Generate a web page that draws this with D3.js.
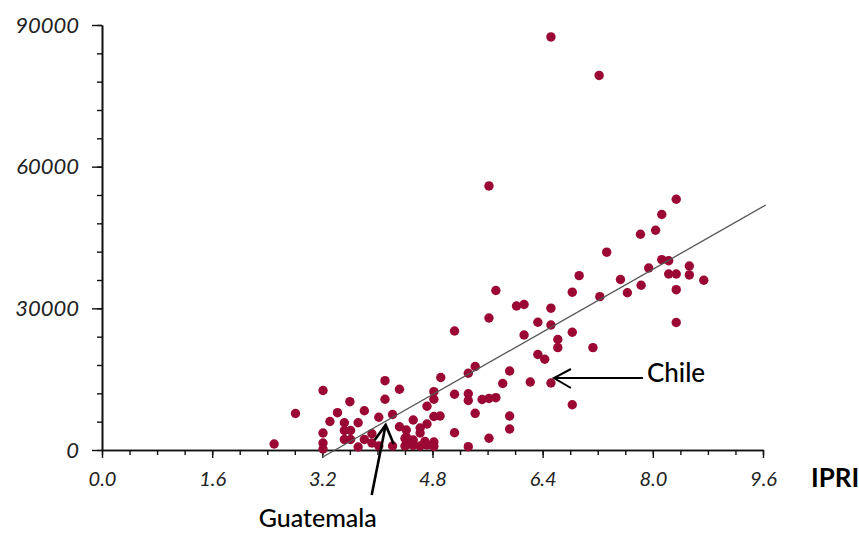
<!DOCTYPE html>
<html>
<head>
<meta charset="utf-8">
<script src="https://cdn.jsdelivr.net/npm/d3@7"></script>
<style>
  html, body { margin: 0; padding: 0; background: #fff; }
  svg { display: block; }
  .tick text { font-family: Lato, "Open Sans", sans-serif; font-style: italic; fill: #222; }
</style>
</head>
<body>
<svg id="chart" width="859" height="534"></svg>
<script>
// ---- data ----
const ipri = [2.50,2.81,3.21,3.21,3.21,3.21,3.60,3.42,3.81,3.31,3.52,3.72,3.52,3.61,3.52,3.61,3.81,3.72,4.11,4.11,4.32,4.02,4.22,3.92,4.02,3.92,4.22,4.32,4.42,4.42,4.42,4.52,4.62,4.62,4.72,4.72,4.82,4.82,4.92,4.82,4.91,4.40,4.52,4.69,4.82,4.40,4.52,4.62,4.72,4.82,5.12,5.12,5.12,5.32,5.42,5.32,5.32,5.52,5.62,5.72,5.42,5.92,5.92,5.92,5.82,5.62,5.32,6.22,6.52,6.83,6.33,6.43,6.62,6.62,7.13,6.13,6.83,5.62,6.33,6.52,6.52,6.02,6.13,5.72,6.83,6.93,7.23,7.63,7.53,7.83,7.94,8.13,8.23,8.23,8.34,8.53,8.53,8.74,8.34,8.34,7.33,7.82,8.04,8.13,8.34,5.62,6.52,7.22];
const gdp = [1270,7730,12600,3600,1480,210,10230,7900,8320,6040,5780,5780,4130,4130,2220,2220,2220,640,14680,10740,12860,6930,7520,3450,850,1480,850,4930,4240,2750,1060,6350,4660,3600,5510,9260,12350,10740,15360,7100,7200,2440,2120,1800,1690,850,950,850,1060,740,11800,3660,25200,16250,17690,11920,10480,10700,10910,11080,7770,7200,4450,16730,14080,2480,700,14400,14190,9590,20230,19210,23400,21670,21670,24360,24930,27960,27050,26480,30030,30500,30820,33780,33420,36920,32470,33300,36110,34880,38550,40310,40070,37280,37280,38970,37070,35940,33950,27000,41890,45690,46530,49880,53100,55920,87470,79320];
const xTicks = [0.0, 1.6, 3.2, 4.8, 6.4, 8.0, 9.6];
const yTicks = [0, 30000, 60000, 90000];
const fitX = [3.20, 9.64];
const fitY = [-1546, 51870];
const labels = [{name: "Chile", ipri: 6.52, gdp: 14190}, {name: "Guatemala", ipri: 4.12, gdp: 5300}];
const xTitle = "IPRI";

// ---- chart ----
const svg = d3.select("#chart");
const x = d3.scaleLinear().domain([0, 9.6]).range([102, 763]);
const y = d3.scaleLinear().domain([0, 90000]).range([450, 25]);

const axisColor = "#111";

const gx = svg.append("g").attr("transform", `translate(0,${y(0)})`);
gx.call(d3.axisBottom(x).tickValues(d3.range(0, 9.61, 0.4)).tickSize(5).tickSizeOuter(0).tickFormat(""));
gx.append("g").call(d3.axisBottom(x).tickValues(xTicks).tickSize(8).tickSizeOuter(0).tickFormat(d3.format(".1f")));
gx.selectAll("path.domain").attr("stroke", axisColor).attr("stroke-width", 1.6);
gx.selectAll(".tick line").attr("stroke", axisColor).attr("stroke-width", 1.4);
gx.selectAll(".tick text").attr("font-size", 20).attr("dy", "1.25em");

const gy = svg.append("g").attr("transform", `translate(${x(0)},0)`);
gy.call(d3.axisLeft(y).tickValues(d3.range(0, 90001, 6000)).tickSize(5).tickSizeOuter(0).tickFormat(""));
gy.append("g").call(d3.axisLeft(y).tickValues(yTicks).tickSize(10).tickSizeOuter(0).tickFormat(d3.format("d")).tickPadding(13));
gy.selectAll("path.domain").attr("stroke", axisColor).attr("stroke-width", 1.6);
gy.selectAll(".tick line").attr("stroke", axisColor).attr("stroke-width", 1.4);
gy.selectAll(".tick text").attr("font-size", 22);

// points
svg.append("g").selectAll("circle").data(ipri).join("circle")
  .attr("cx", d => x(d))
  .attr("cy", (d, i) => y(gdp[i]))
  .attr("r", 4.7)
  .attr("fill", "#9a0833");

// regression line
svg.append("line")
  .attr("x1", x(fitX[0])).attr("y1", y(fitY[0]))
  .attr("x2", x(fitX[1])).attr("y2", y(fitY[1]))
  .attr("stroke", "#555").attr("stroke-width", 1.3);

// x title
svg.append("text").attr("x", 811).attr("y", 487)
  .attr("font-family", "Lato, sans-serif").attr("font-weight", 700).attr("font-size", 26)
  .attr("fill", "#000").text(xTitle);

// annotations
const ann = svg.append("g").attr("stroke", "#000").attr("fill", "none");
const c = labels[0];
const cx = x(c.ipri) + 3, cy = y(c.gdp) - 5;
ann.append("line").attr("x1", cx).attr("y1", cy).attr("x2", cx + 89).attr("y2", cy).attr("stroke-width", 2);
ann.append("path").attr("d", `M${cx + 17},${cy - 9} L${cx},${cy} L${cx + 17},${cy + 10}`).attr("stroke-width", 2);
svg.append("text").attr("x", cx + 93).attr("y", cy + 4)
  .attr("font-family", "Lato, sans-serif").attr("font-size", 26).attr("font-weight", 500)
  .attr("fill", "#000").text(c.name);
const g = labels[1];
const gxp = x(g.ipri), gyp = y(g.gdp);
ann.append("line").attr("x1", gxp).attr("y1", gyp).attr("x2", gxp - 14).attr("y2", gyp + 70).attr("stroke-width", 2.6);
ann.append("path").attr("d", `M${gxp - 11},${gyp + 15} L${gxp},${gyp} L${gxp + 8},${gyp + 19}`).attr("stroke-width", 2.6);
svg.append("text").attr("x", gxp - 127).attr("y", gyp + 102)
  .attr("font-family", "Lato, sans-serif").attr("font-size", 25).attr("font-weight", 500)
  .attr("fill", "#000").text(g.name);
</script>
</body>
</html>
